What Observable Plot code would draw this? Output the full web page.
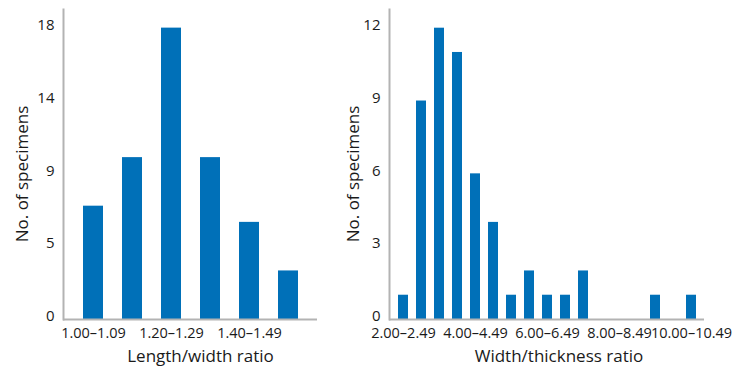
<!DOCTYPE html>
<html>
<head>
<meta charset="utf-8">
<script src="https://cdn.jsdelivr.net/npm/d3@7"></script>
<script src="https://cdn.jsdelivr.net/npm/@observablehq/plot@0.6"></script>
<style>
  html, body { margin: 0; padding: 0; background: #fff; }
  #wrap { display: flex; flex-direction: row; width: 736px; height: 367px; }
  svg { font-family: "Open Sans", sans-serif; }
</style>
</head>
<body>
<div id="wrap"></div>
<script>
// Left panel: Length/width ratio
const lwCategories = ["1.00–1.09", "1.10–1.19", "1.20–1.29", "1.30–1.39", "1.40–1.49", "1.50–1.59"];
const lwCounts = [7, 10, 18, 10, 6, 3];
const lwXTicks = ["1.00–1.09", "1.20–1.29", "1.40–1.49"];
const lwYTicks = [0, 4.5, 9, 13.5, 18];
const lwYLabels = ["0", "5", "9", "14", "18"];

// Right panel: Width/thickness ratio
const wtCategories = ["2.00–2.49", "2.50–2.99", "3.00–3.49", "3.50–3.99", "4.00–4.49", "4.50–4.99",
  "5.00–5.49", "5.50–5.99", "6.00–6.49", "6.50–6.99", "7.00–7.49", "7.50–7.99",
  "8.00–8.49", "8.50–8.99", "9.00–9.49", "9.50–9.99", "10.00–10.49"];
const wtCounts = [1, 9, 12, 11, 6, 4, 1, 2, 1, 1, 2, 0, 0, 0, 1, 0, 1];
const wtXTicks = ["2.00–2.49", "4.00–4.49", "6.00–6.49", "8.00–8.49", "10.00–10.49"];
const wtYTicks = [0, 3, 6, 9, 12];
const wtYLabels = ["0", "3", "6", "9", "12"];

const barColor = "#0070b8";
const axisColor = "#b3b3b3";
const textColor = "#1a1a1a";

function panel({categories, counts, xTicks, yTicks, yLabels, yMax, width, marginLeft, marginRight, padding, xLabel, titleDx}) {
  const data = categories.map((c, i) => ({cat: c, n: counts[i]}));
  return Plot.plot({
    width,
    height: 367,
    marginLeft,
    marginRight,
    marginTop: 9,
    marginBottom: 48,
    style: {fontFamily: "Open Sans, sans-serif", fontSize: "15px", color: textColor, background: "#fff"},
    x: {type: "band", domain: categories, padding, align: 0.5, label: null},
    y: {domain: [0, yMax], label: null},
    marks: [
      Plot.barY(data, {x: "cat", y: "n", fill: barColor}),
      Plot.axisY({
        ticks: yTicks, tickSize: 0, tickPadding: 9, dy: -3,
        tickFormat: (d) => yLabels[yTicks.indexOf(d)],
        fontSize: 15, label: null, fill: textColor
      }),
      Plot.axisX({
        ticks: xTicks, tickSize: 0, tickPadding: 8, fontSize: 14.5, label: null, fill: textColor
      }),
      Plot.frame({anchor: "left", stroke: axisColor, strokeWidth: 2}),
      Plot.ruleY([0], {stroke: axisColor, strokeWidth: 2}),
      Plot.text([xLabel], {frameAnchor: "bottom", lineAnchor: "bottom", dy: 42, dx: titleDx, fontSize: 17, fill: textColor, text: (d) => d})
    ]
  });
}

const wrap = document.getElementById("wrap");

const left = panel({
  categories: lwCategories, counts: lwCounts, xTicks: lwXTicks,
  yTicks: lwYTicks, yLabels: lwYLabels, yMax: 19.15,
  width: 320, marginLeft: 63, marginRight: 3, padding: 0.5,
  xLabel: "Length/width ratio", titleDx: 10
});
const right = panel({
  categories: wtCategories, counts: wtCounts, xTicks: wtXTicks,
  yTicks: wtYTicks, yLabels: wtYLabels, yMax: 12.77,
  width: 416, marginLeft: 69, marginRight: 32, padding: 0.45,
  xLabel: "Width/thickness ratio", titleDx: 12
});

wrap.appendChild(left);
wrap.appendChild(right);

// rotated y-axis titles as real text inside each svg
function addYTitle(svg, x, y, text) {
  const ns = "http://www.w3.org/2000/svg";
  const t = document.createElementNS(ns, "text");
  t.setAttribute("transform", `translate(${x},${y}) rotate(-90)`);
  t.setAttribute("text-anchor", "middle");
  t.setAttribute("dominant-baseline", "middle");
  t.setAttribute("font-size", "17");
  t.setAttribute("fill", textColor);
  t.setAttribute("font-family", "Open Sans, sans-serif");
  t.textContent = text;
  svg.appendChild(t);
}
addYTitle(left, 23, 174, "No. of specimens");
addYTitle(right, 354 - 320, 174, "No. of specimens");
</script>
</body>
</html>
